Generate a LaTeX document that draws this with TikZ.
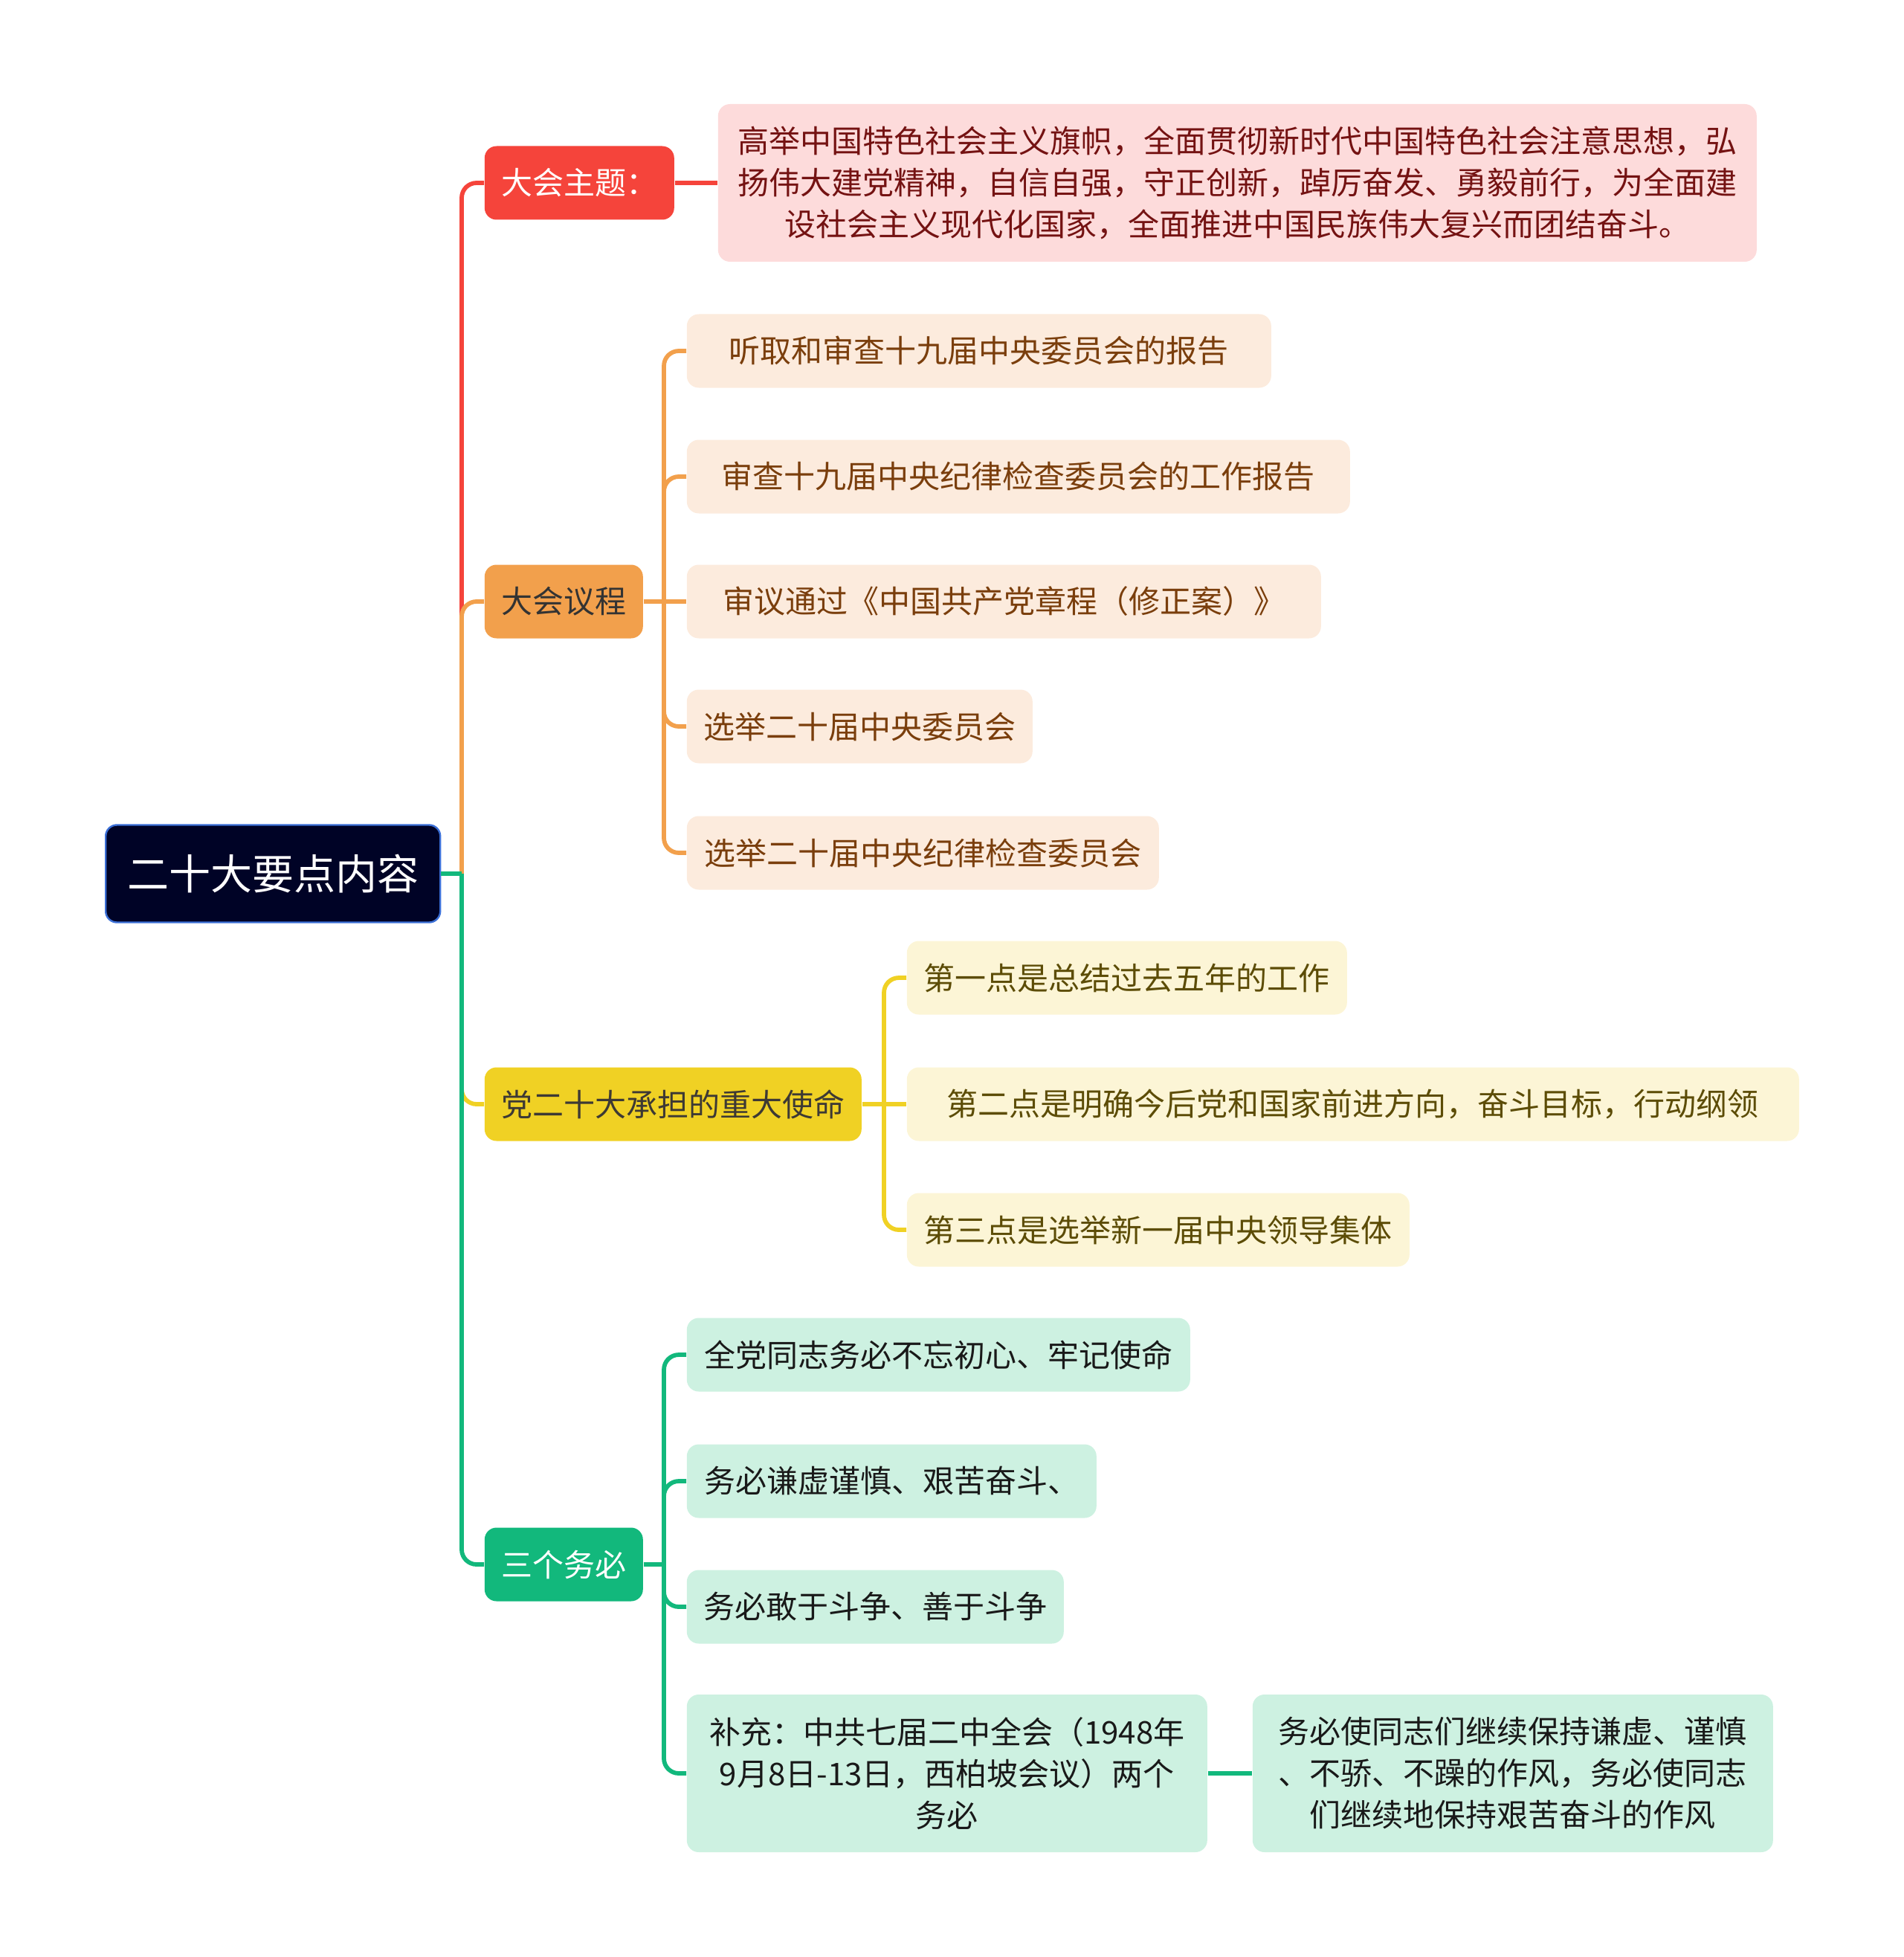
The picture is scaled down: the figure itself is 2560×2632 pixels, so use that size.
\documentclass[tikz,border=0pt]{standalone}
\usepackage{fontspec}
\newfontfamily\cjk{Noto Sans CJK SC}
\definecolor{cRed}{HTML}{F5443B}
\definecolor{cRedL}{HTML}{FDDBDB}
\definecolor{cRedT}{HTML}{741212}
\definecolor{cOr}{HTML}{F2A04C}
\definecolor{cOrL}{HTML}{FCEBDD}
\definecolor{cOrT}{HTML}{7A3E0C}
\definecolor{cYe}{HTML}{F0D124}
\definecolor{cYeL}{HTML}{FCF5D6}
\definecolor{cYeT}{HTML}{5C4C06}
\definecolor{cGr}{HTML}{12B87C}
\definecolor{cGrL}{HTML}{CDF1E1}
\definecolor{cRoot}{HTML}{000326}
\definecolor{cRootB}{HTML}{3B6FD6}
\begin{document}
\begin{tikzpicture}[x=0.25pt,y=-0.25pt,
  box/.style={rounded corners=4pt, inner sep=0pt, anchor=west, align=center,
    font=\cjk\fontsize{10.5}{14}\selectfont, minimum height=24.75pt},
  tall/.style={minimum height=53pt},
  rootbox/.style={rounded corners=3.75pt, inner sep=0pt, anchor=west, align=center,
    font=\cjk\fontsize{14}{18}\selectfont, fill=cRoot, draw=cRootB, line width=0.6pt,
    text=white, minimum height=32.75pt, minimum width=112.5pt},
  redA/.style={box, fill=cRed, text=white},
  redB/.style={box, fill=cRedL, text=cRedT},
  orA/.style={box, fill=cOr, text=black!80},
  orB/.style={box, fill=cOrL, text=cOrT},
  yeA/.style={box, fill=cYe, text=black!80!yellow!60!black},
  yeB/.style={box, fill=cYeL, text=cYeT},
  grA/.style={box, fill=cGr, text=white},
  grB/.style={box, fill=cGrL, text=black!90},
  link/.style={line width=1.45pt, rounded corners=5pt},
]
\useasboundingbox (0,0) rectangle (2560,2632);

% nodes
\node[rootbox] (root) at (141,1175) {二十大要点内容};

\node[redA, minimum width=63.75pt] (T) at (651,246) {大会主题：};
\node[orA, minimum width=53.25pt] (Y) at (651,809) {大会议程};
\node[yeA, minimum width=126.75pt] (M) at (651,1485) {党二十大承担的重大使命};
\node[grA, minimum width=53.25pt] (W) at (651,2104) {三个务必};

\node[redB, tall, minimum width=349.25pt] (Tc) at (965,246)
  {高举中国特色社会主义旗帜，全面贯彻新时代中国特色社会注意思想，弘\\
   扬伟大建党精神，自信自强，守正创新，踔厉奋发、勇毅前行，为全面建\\
   设社会主义现代化国家，全面推进中国民族伟大复兴而团结奋斗。};

\node[orB, minimum width=196.5pt] (A1) at (923,472) {听取和审查十九届中央委员会的报告};
\node[orB, minimum width=223pt] (A2) at (923,641) {审查十九届中央纪律检查委员会的工作报告};
\node[orB, minimum width=213.25pt] (A3) at (923,809) {审议通过《中国共产党章程（修正案）》};
\node[orB, minimum width=116.25pt] (A4) at (923,977) {选举二十届中央委员会};
\node[orB, minimum width=158.75pt] (A5) at (923,1147) {选举二十届中央纪律检查委员会};

\node[yeB, minimum width=148pt] (B1) at (1219,1315) {第一点是总结过去五年的工作};
\node[yeB, minimum width=300pt] (B2) at (1219,1485) {第二点是明确今后党和国家前进方向，奋斗目标，行动纲领};
\node[yeB, minimum width=169pt] (B3) at (1219,1654) {第三点是选举新一届中央领导集体};

\node[grB, minimum width=169.25pt] (C1) at (923,1822) {全党同志务必不忘初心、牢记使命};
\node[grB, minimum width=137.75pt] (C2) at (923,1992) {务必谦虚谨慎、艰苦奋斗、};
\node[grB, minimum width=126.75pt] (C3) at (923,2161) {务必敢于斗争、善于斗争};
\node[grB, tall, minimum width=175pt] (C4) at (923,2385)
  {补充：中共七届二中全会（1948年\\9月8日-13日，西柏坡会议）两个\\务必};
\node[grB, tall, minimum width=175pt] (C5) at (1684,2385)
  {务必使同志们继续保持谦虚、谨慎\\、不骄、不躁的作风，务必使同志\\们继续地保持艰苦奋斗的作风};

% junctions
\coordinate (J) at (621,1175);
\coordinate (JA) at (893,809);
\coordinate (JB) at (1189,1485);
\coordinate (JC) at (893,2104);

% connectors, main trunk
\draw[link, cRed] (J) |- (T.west);
\draw[link, cOr] (J) |- (Y.west);
\draw[link, cYe] (J) |- (M.west);
\draw[link, cGr] (J) |- (W.west);
\draw[link, cGr] (root.east) -- (J);

% red
\draw[link, cRed] (T.east) -- (Tc.west);
% orange
\draw[link, cOr] (JA) |- (A1.west);
\draw[link, cOr] (JA) |- (A2.west);
\draw[link, cOr] (JA) |- (A4.west);
\draw[link, cOr] (JA) |- (A5.west);
\draw[link, cOr] (Y.east) -- (A3.west);
% yellow
\draw[link, cYe] (JB) |- (B1.west);
\draw[link, cYe] (JB) |- (B3.west);
\draw[link, cYe] (M.east) -- (B2.west);
% green
\draw[link, cGr] (JC) |- (C1.west);
\draw[link, cGr] (JC) |- (C2.west);
\draw[link, cGr] (JC) |- (C3.west);
\draw[link, cGr] (JC) |- (C4.west);
\draw[link, cGr] (W.east) -- (JC);
\draw[link, cGr] (C4.east) -- (C5.west);
\end{tikzpicture}
\end{document}
